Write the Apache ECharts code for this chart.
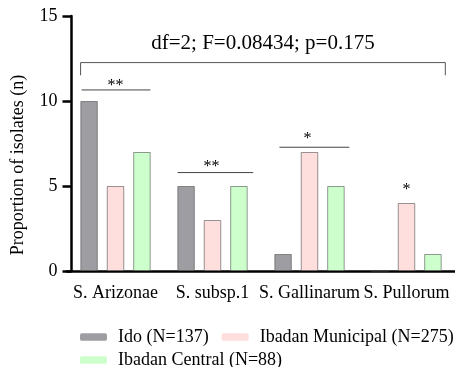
<!DOCTYPE html>
<html>
<head>
<meta charset="utf-8">
<script src="https://cdn.jsdelivr.net/npm/echarts@6/dist/echarts.min.js"></script>
<style>html,body{margin:0;padding:0;background:#fff;}#chart{width:455px;height:367px;}</style>
</head>
<body>
<div id="chart"></div>
<script>
// ---- data ----
const categories = ['S. Arizonae', 'S. subsp.1', 'S. Gallinarum', 'S. Pullorum'];
const seriesNames = ['Ido (N=137)', 'Ibadan Municipal (N=275)', 'Ibadan Central (N=88)'];
const ido = [10, 5, 1, 0];
const ibadanMunicipal = [5, 3, 7, 4];
const ibadanCentral = [7, 5, 5, 1];
const yTicks = [0, 5, 10, 15];
const yTitle = 'Proportion of isolates (n)';
const statText = 'df=2; F=0.08434; p=0.175';
// overall bracket: [xStart, xEnd, yTop, yEnd] in category-index / value units
const bracket = [[-0.36, 3.40, 12.26, 11.51]];
const statPos = [[1.52, 13.4]];
// significance lines: [xStart, xEnd, y]
const sigLines = [[-0.35, 0.36, 10.65], [0.64, 1.42, 5.79], [1.69, 2.41, 7.28]];
// significance stars: [x, y] and their labels
const sigStarPos = [[0, 10.9], [0.99, 6.15], [1.98, 7.78], [3.0, 4.8]];
const sigStarText = ['**', '**', '*', '*'];

const FONT = '"Liberation Serif", "Times New Roman", serif';
const colors = ['#9e9ea2', '#ffdede', '#ccffcc'];

const chart = echarts.init(document.getElementById('chart'), null, {renderer: 'canvas'});

function barSeries(name, data, color) {
  return {
    name: name, type: 'bar', data: data,
    xAxisIndex: 0, yAxisIndex: 0,
    barWidth: 17.5, barGap: '51%',
    itemStyle: {color: color, borderColor: 'rgba(70,70,70,0.55)', borderWidth: 1},
    emphasis: {disabled: true}
  };
}

const legendText = {fontSize: 18, fontFamily: FONT, color: '#000', padding: [0, 0, 0, 6], lineHeight: 20};

const option = {
  animation: false,
  backgroundColor: '#fff',
  grid: {left: 67, top: 16, width: 389, height: 255, containLabel: false},
  xAxis: [{
    type: 'category', data: categories,
    axisLine: {onZero: false, lineStyle: {color: '#000', width: 2.5}},
    axisTick: {alignWithLabel: true, length: 6, lineStyle: {color: '#000', width: 2.5}},
    axisLabel: {interval: 0, fontSize: 18, fontFamily: FONT, color: '#000', margin: 13}
  }, {
    type: 'value', min: -0.5, max: 3.5, show: false
  }],
  yAxis: [{
    type: 'value', min: yTicks[0], max: yTicks[yTicks.length - 1], interval: 5,
    offset: -4.5,
    axisLine: {show: true, onZero: false, lineStyle: {color: '#000', width: 2.5}},
    axisTick: {show: true, length: 9, lineStyle: {color: '#000', width: 2.5}},
    axisLabel: {fontSize: 18, fontFamily: FONT, color: '#000', margin: 14},
    splitLine: {show: false}
  }],
  legend: [{
    data: [seriesNames[0], seriesNames[1]],
    left: 75, top: 322, width: 400, orient: 'horizontal',
    itemWidth: 27, itemHeight: 7.5, itemGap: 13,
    itemStyle: {borderWidth: 0},
    textStyle: legendText,
    selectedMode: false
  }, {
    data: [seriesNames[2]],
    left: 75, top: 345, width: 400, orient: 'horizontal',
    itemWidth: 27, itemHeight: 7.5,
    itemStyle: {borderWidth: 0},
    textStyle: legendText,
    selectedMode: false
  }],
  graphic: [{
    type: 'text', x: 18, y: 165, rotation: Math.PI / 2,
    style: {text: yTitle, font: '18px ' + FONT, fill: '#000', textAlign: 'center', textVerticalAlign: 'middle'}
  }],
  series: [
    barSeries(seriesNames[0], ido, colors[0]),
    barSeries(seriesNames[1], ibadanMunicipal, colors[1]),
    barSeries(seriesNames[2], ibadanCentral, colors[2]),
    {
      type: 'custom', name: 'bracket', xAxisIndex: 1, yAxisIndex: 0, data: bracket, silent: true,
      renderItem: function (params, api) {
        const a = api.coord([api.value(0), api.value(3)]);
        const b = api.coord([api.value(0), api.value(2)]);
        const c = api.coord([api.value(1), api.value(2)]);
        const d = api.coord([api.value(1), api.value(3)]);
        return {type: 'polyline', shape: {points: [a, b, c, d]},
          style: {stroke: '#555', lineWidth: 1, fill: null}};
      }
    },
    {
      type: 'custom', name: 'stat', xAxisIndex: 1, yAxisIndex: 0, data: statPos, silent: true,
      renderItem: function (params, api) {
        const p = api.coord([api.value(0), api.value(1)]);
        return {type: 'text', x: p[0], y: p[1],
          style: {text: statText, font: '21px ' + FONT, fill: '#000', textAlign: 'center', textVerticalAlign: 'middle'}};
      }
    },
    {
      type: 'custom', name: 'sigLines', xAxisIndex: 1, yAxisIndex: 0, data: sigLines, silent: true,
      renderItem: function (params, api) {
        const p1 = api.coord([api.value(0), api.value(2)]);
        const p2 = api.coord([api.value(1), api.value(2)]);
        return {type: 'line', shape: {x1: p1[0], y1: p1[1], x2: p2[0], y2: p2[1]},
          style: {stroke: '#444', lineWidth: 1}};
      }
    },
    {
      type: 'custom', name: 'sigStars', xAxisIndex: 1, yAxisIndex: 0, data: sigStarPos, silent: true,
      renderItem: function (params, api) {
        const p = api.coord([api.value(0), api.value(1)]);
        return {type: 'text', x: p[0], y: p[1],
          style: {text: sigStarText[params.dataIndex], font: '16px ' + FONT, fill: '#000', textAlign: 'center', textVerticalAlign: 'middle'}};
      }
    }
  ]
};
chart.setOption(option);
</script>
</body>
</html>
